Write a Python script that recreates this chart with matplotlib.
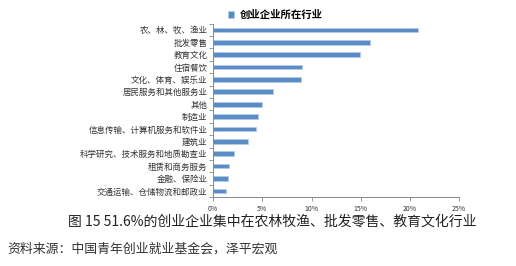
import matplotlib.pyplot as plt
import numpy as np
from matplotlib.ticker import FuncFormatter

plt.rcParams['font.family'] = ['Noto Sans CJK SC', 'DejaVu Sans']

categories = ['农、林、牧、渔业', '批发零售', '教育文化', '住宿餐饮',
              '文化、体育、娱乐业', '居民服务和其他服务业', '其他', '制造业',
              '信息传输、计算机服务和软件业', '建筑业',
              '科学研究、技术服务和地质勘查业', '租赁和商务服务',
              '金融、保险业', '交通运输、仓储物流和邮政业']
shares = [20.8, 15.9, 14.9, 9.0, 8.9, 6.1, 5.0, 4.6, 4.4, 3.5, 2.1, 1.6, 1.5, 1.3]
xticks = [0, 5, 10, 15, 20, 25]

fig = plt.figure(figsize=(5.16, 2.66), dpi=100)
ax = fig.add_axes([0.413, 0.259, 0.477, 0.652])

y = np.arange(len(categories))
ax.barh(y, shares, height=0.38, color='#5a8cc6', edgecolor='#b4cbe6',
        linewidth=0.6, label='创业企业所在行业')
ax.set_ylim(len(categories) - 0.5, -0.5)
ax.set_xlim(0, 25)

ax.set_yticks(y)
ax.set_yticklabels(categories, fontsize=5.2, color='#333333')
ax.set_yticks(np.arange(-0.5, len(categories), 1), minor=True)
ax.tick_params(axis='y', which='major', length=0, pad=4)
ax.tick_params(axis='y', which='minor', length=3, color='#888888', width=0.6)

ax.set_xticks(xticks)
ax.xaxis.set_major_formatter(FuncFormatter(lambda v, p: '%d%%' % v))
ax.tick_params(axis='x', labelsize=5, colors='#333333', length=3,
               width=0.6, pad=3)
ax.tick_params(axis='x', color='#888888')

for s in ['top', 'right']:
    ax.spines[s].set_visible(False)
for s in ['left', 'bottom']:
    ax.spines[s].set_color('#888888')
    ax.spines[s].set_linewidth(0.7)

# fit category label size so the longest one is ~128 px wide like the original
renderer = fig.canvas.get_renderer()
labs = ax.get_yticklabels()
widest = max(t.get_window_extent(renderer).width for t in labs)
for t in labs:
    t.set_fontsize(5.2 * 128 / widest)

leg = ax.legend(loc='lower left', bbox_to_anchor=(0.04, 0.99), frameon=False,
                fontsize=7.5, handlelength=0.6, handleheight=0.6,
                handletextpad=0.5, borderaxespad=0.1)
for t in leg.get_texts():
    t.set_fontweight('bold')

fig.text(0.527, 0.165, '图 15 51.6%的创业企业集中在农林牧渔、批发零售、教育文化行业',
         ha='center', va='center', fontsize=10, color='#222222')
fig.text(0.015, 0.065, '资料来源：中国青年创业就业基金会，泽平宏观',
         ha='left', va='center', fontsize=9.3, color='#333333')

fig.savefig('out.png', dpi=100)
